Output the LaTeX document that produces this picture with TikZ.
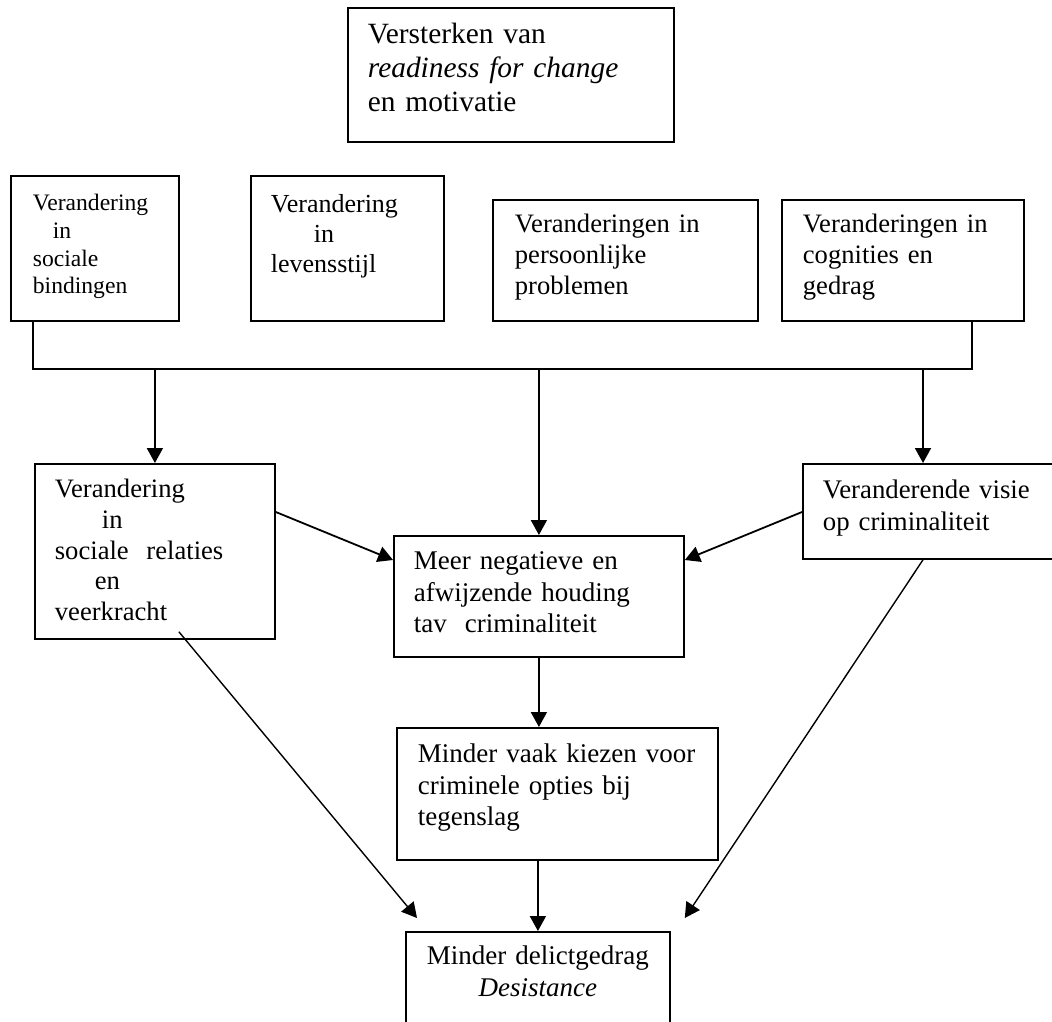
\documentclass[tikz,border=0pt]{standalone}
\usepackage{fontspec}
\setmainfont{Liberation Serif}
\usetikzlibrary{arrows.meta,calc}
\newcommand{\fsz}[2]{\fontsize{#1pt}{#2pt}\selectfont}
\begin{document}
\begin{tikzpicture}[x=0.5pt,y=-0.5pt,
    box/.style={draw, line width=0.9pt, anchor=north west, align=left, inner ysep=0pt, inner xsep=10pt},
    arr/.style={line width=0.9pt, -{Triangle[length=7.5pt,width=8pt]}},
    diag/.style={line width=0.7pt, -{Triangle[length=7.5pt,width=8pt]}}]
  \path[use as bounding box, clip] (0,0) rectangle (1052,1021);
  \node[box, text width=143pt, text height=18pt, text depth=49pt, font={\fsz{14.7}{17}}] (motiv) at (347,7)
    {Versterken van\\\textit{readiness for change}\\en motivatie};
  \node[box, inner xsep=11pt, text width=62pt, text height=17.5pt, text depth=55pt, font={\fsz{11.8}{13.8}}] (bind) at (10,175)
    {Verandering\\\hspace*{10pt}in\\sociale\\bindingen};
  \node[box, text width=76.5pt, text height=18.5pt, text depth=54pt, font={\fsz{13}{15}}] (stijl) at (250,175)
    {Verandering\\\hspace*{21.5pt}in\\levensstijl};
  \node[box, inner xsep=11pt, text width=110.5pt, text height=16.5pt, text depth=44pt, font={\fsz{13.3}{15.3}}] (probl) at (492,199)
    {Veranderingen in\\persoonlijke\\problemen};
  \node[box, inner xsep=10.5pt, text width=100pt, text height=16.5pt, text depth=44pt, font={\fsz{13.3}{15.3}}] (cogn) at (781,199)
    {Veranderingen in\\cognities en\\gedrag};
  \node[box, text width=100pt, text height=17pt, text depth=70.5pt, font={\fsz{13.3}{15.3}}] (relat) at (34,463)
    {Verandering\\\hspace*{23.5pt}in\\sociale~ relaties\\\hspace*{20pt}en\\veerkracht};
  \node[box, text width=125pt, text height=17pt, text depth=43.5pt, font={\fsz{13.5}{15.75}}] (houd) at (393,535)
    {Meer negatieve en\\afwijzende houding\\tav~ criminaliteit};
  \node[box, text width=110pt, text height=17.5pt, text depth=30pt, font={\fsz{13.4}{15.6}}] (visie) at (802,463)
    {Veranderende visie\\op criminaliteit};
  \node[box, inner xsep=10.5pt, text width=139.5pt, text height=17.5pt, text depth=48.5pt, font={\fsz{13.5}{15.75}}] (keuze) at (396,727)
    {Minder vaak kiezen voor\\criminele opties bij\\tegenslag};
  \node[box, align=center, text width=112pt, text height=16.5pt, text depth=38pt, font={\fsz{13.5}{15.75}}] (desist) at (405,931)
    {Minder delictgedrag\\\textit{Desistance}};
  \coordinate (barL) at ($(bind.south west)+(23,47)$);
  \coordinate (visieIn) at ($(visie.north west)+(121,0)$);
  \coordinate (visieOut) at ($(visie.south west)+(121,0)$);
  \draw[line width=0.9pt] ($(bind.south west)+(23,0)$) -- (barL) -| ($(cogn.south west)+(191,0)$);
  \draw[arr] (relat.north |- barL) -- (relat.north);
  \draw[arr] (houd.north |- barL) -- (houd.north);
  \draw[arr] (visieIn |- barL) -- (visieIn);
  \draw[arr] ($(relat.north east)+(0,49)$) -- ($(houd.north west)+(0,25)$);
  \draw[arr] ($(visie.north west)+(0,49)$) -- ($(houd.north east)+(0,25)$);
  \draw[arr] (houd.south) -- (houd.south |- keuze.north);
  \draw[arr] (desist.north |- keuze.south) -- (desist.north);
  \draw[diag] ($(relat.south)+(24,-8)$) -- ($(desist.north west)+(12,-13)$);
  \draw[diag] (visieOut) -- ($(desist.north east)+(14,-13)$);
\end{tikzpicture}
\end{document}
